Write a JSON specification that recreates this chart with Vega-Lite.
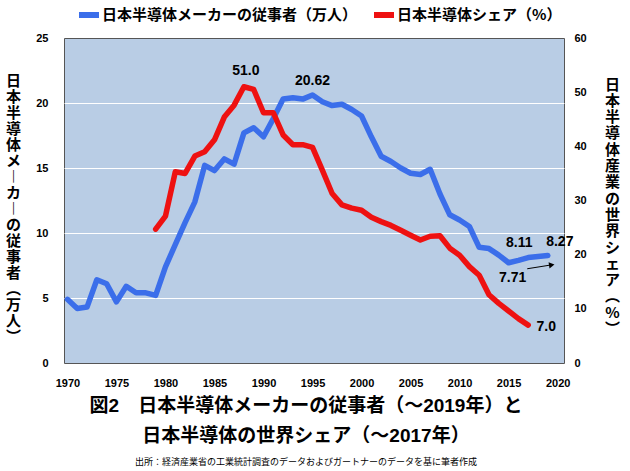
{
  "$schema": "https://vega.github.io/schema/vega-lite/v6.json",
  "width": 500,
  "height": 325,
  "autosize": {"type": "none"},
  "padding": {"left": 64, "top": 38, "right": 66, "bottom": 108},
  "background": "white",
  "config": {
    "font": "'Liberation Sans', 'Noto Sans CJK JP', sans-serif",
    "view": {"fill": "#b9cde5", "stroke": "#555555", "strokeWidth": 1},
    "axis": {
      "labelFont": "'Liberation Sans', sans-serif",
      "labelFontWeight": "bold",
      "labelFontSize": 11,
      "labelColor": "#000000",
      "ticks": false,
      "domain": false,
      "titleFont": "'Noto Sans CJK JP', sans-serif",
      "titleFontWeight": "bold",
      "titleFontSize": 15,
      "titleColor": "#000000"
    }
  },
  "title": {
    "text": ["図2　日本半導体メーカーの従事者（～2019年）と", "日本半導体の世界シェア（～2017年）"],
    "orient": "bottom",
    "anchor": "middle",
    "dx": -8,
    "font": "'Liberation Sans', 'Noto Sans CJK JP', sans-serif",
    "fontSize": 19,
    "fontWeight": "bold",
    "lineHeight": 30,
    "offset": 9,
    "color": "#000000",
    "subtitle": "出所：経済産業省の工業統計調査のデータおよびガートナーのデータを基に筆者作成",
    "subtitleFont": "'Noto Sans CJK JP', sans-serif",
    "subtitleFontSize": 9,
    "subtitleColor": "#000000",
    "subtitlePadding": 12
  },
  "datasets": {
    "workers": [
      {"year": 1970, "value": 4.9}, {"year": 1971, "value": 4.2}, {"year": 1972, "value": 4.3},
      {"year": 1973, "value": 6.4}, {"year": 1974, "value": 6.1}, {"year": 1975, "value": 4.7},
      {"year": 1976, "value": 5.9}, {"year": 1977, "value": 5.4}, {"year": 1978, "value": 5.4},
      {"year": 1979, "value": 5.2}, {"year": 1980, "value": 7.4}, {"year": 1981, "value": 9.1},
      {"year": 1982, "value": 10.8}, {"year": 1983, "value": 12.4}, {"year": 1984, "value": 15.2},
      {"year": 1985, "value": 14.8}, {"year": 1986, "value": 15.7}, {"year": 1987, "value": 15.3},
      {"year": 1988, "value": 17.7}, {"year": 1989, "value": 18.1}, {"year": 1990, "value": 17.4},
      {"year": 1991, "value": 18.8}, {"year": 1992, "value": 20.3}, {"year": 1993, "value": 20.4},
      {"year": 1994, "value": 20.3}, {"year": 1995, "value": 20.62}, {"year": 1996, "value": 20.1},
      {"year": 1997, "value": 19.8}, {"year": 1998, "value": 19.9}, {"year": 1999, "value": 19.5},
      {"year": 2000, "value": 19.0}, {"year": 2001, "value": 17.4}, {"year": 2002, "value": 15.9},
      {"year": 2003, "value": 15.5}, {"year": 2004, "value": 15.0}, {"year": 2005, "value": 14.6},
      {"year": 2006, "value": 14.5}, {"year": 2007, "value": 14.9}, {"year": 2008, "value": 13.0},
      {"year": 2009, "value": 11.4}, {"year": 2010, "value": 11.0}, {"year": 2011, "value": 10.5},
      {"year": 2012, "value": 8.9}, {"year": 2013, "value": 8.8}, {"year": 2014, "value": 8.3},
      {"year": 2015, "value": 7.71}, {"year": 2016, "value": 7.9}, {"year": 2017, "value": 8.11},
      {"year": 2018, "value": 8.2}, {"year": 2019, "value": 8.27}
    ],
    "share": [
      {"year": 1979, "value": 24.7}, {"year": 1980, "value": 27.1}, {"year": 1981, "value": 35.3},
      {"year": 1982, "value": 35.0}, {"year": 1983, "value": 38.2}, {"year": 1984, "value": 39.0},
      {"year": 1985, "value": 41.2}, {"year": 1986, "value": 45.4}, {"year": 1987, "value": 47.6},
      {"year": 1988, "value": 51.0}, {"year": 1989, "value": 50.5}, {"year": 1990, "value": 46.2},
      {"year": 1991, "value": 46.2}, {"year": 1992, "value": 42.1}, {"year": 1993, "value": 40.3},
      {"year": 1994, "value": 40.3}, {"year": 1995, "value": 39.8}, {"year": 1996, "value": 35.6},
      {"year": 1997, "value": 31.3}, {"year": 1998, "value": 29.2}, {"year": 1999, "value": 28.6},
      {"year": 2000, "value": 28.2}, {"year": 2001, "value": 26.9}, {"year": 2002, "value": 26.1},
      {"year": 2003, "value": 25.4}, {"year": 2004, "value": 24.5}, {"year": 2005, "value": 23.6},
      {"year": 2006, "value": 22.7}, {"year": 2007, "value": 23.4}, {"year": 2008, "value": 23.5},
      {"year": 2009, "value": 21.2}, {"year": 2010, "value": 19.9}, {"year": 2011, "value": 17.8},
      {"year": 2012, "value": 16.2}, {"year": 2013, "value": 12.6}, {"year": 2014, "value": 11.0},
      {"year": 2015, "value": 9.6}, {"year": 2016, "value": 8.2}, {"year": 2017, "value": 7.0}
    ],
    "arrow": [
      {"year": 2016.9, "value": 7.25, "year_end": 2019.4, "value_end": 7.55}
    ]
  },
  "layer": [
    {
      "data": {"name": "workers"},
      "encoding": {
        "x": {
          "field": "year", "type": "quantitative",
          "scale": {"domain": [1969.65, 2020.65], "nice": false, "zero": false},
          "axis": {"values": [1970, 1975, 1980, 1985, 1990, 1995, 2000, 2005, 2010, 2015, 2020], "format": "d", "labelPadding": 14, "grid": false, "title": null}
        },
        "y": {
          "field": "value", "type": "quantitative",
          "scale": {"domain": [0, 25], "nice": false},
          "axis": {
            "orient": "left",
            "values": [0, 5, 10, 15, 20, 25],
            "labelPadding": 16,
            "grid": true,
            "gridColor": {"condition": {"test": "datum.value === 0 || datum.value === 25", "value": "transparent"}, "value": "#ffffff"},
            "gridWidth": 1,
            "title": ["日", "本", "半", "導", "体", "メ", "︱", "カ", "︱", "の", "従", "事", "者", "︵", "万", "人", "︶"],
            "titleAngle": 0,
            "titleAlign": "center",
            "titleBaseline": "top",
            "titleX": -51,
            "titleY": 35,
            "titleLineHeight": 16
          }
        }
      },
      "layer": [
        {
          "mark": {"type": "line", "strokeWidth": 5.5, "strokeJoin": "round", "strokeCap": "round"},
          "encoding": {
            "color": {
              "datum": "日本半導体メーカーの従事者（万人）",
              "type": "nominal",
              "scale": {"domain": ["日本半導体メーカーの従事者（万人）", "日本半導体シェア（%）"], "range": ["#3b6eea", "#ee1111"]},
              "legend": {
                "orient": "none", "legendX": 12, "legendY": -36, "direction": "horizontal",
                "symbolType": "stroke", "symbolStrokeWidth": 6, "symbolSize": 400,
                "labelFont": "'Noto Sans CJK JP', sans-serif",
                "labelFontSize": 15, "labelFontWeight": "bold", "labelColor": "#000000",
                "columnPadding": 4, "labelOffset": 0, "title": null, "labelLimit": 400
              }
            }
          }
        },
        {
          "transform": [{"filter": "datum.year === 1995"}],
          "mark": {"type": "text", "dy": -14, "dx": 0, "fontSize": 14, "fontWeight": "bold", "color": "#000000"},
          "encoding": {"text": {"field": "value", "type": "quantitative", "format": ".2f"}}
        },
        {
          "transform": [{"filter": "datum.year === 2017"}],
          "mark": {"type": "text", "dy": -15, "dx": -9, "fontSize": 14, "fontWeight": "bold", "color": "#000000"},
          "encoding": {"text": {"field": "value", "type": "quantitative", "format": ".2f"}}
        },
        {
          "transform": [{"filter": "datum.year === 2019"}],
          "mark": {"type": "text", "dy": -13, "dx": 12, "fontSize": 14, "fontWeight": "bold", "color": "#000000"},
          "encoding": {"text": {"field": "value", "type": "quantitative", "format": ".2f"}}
        },
        {
          "transform": [{"filter": "datum.year === 2015"}],
          "mark": {"type": "text", "dy": 15, "dx": 4, "fontSize": 14, "fontWeight": "bold", "color": "#000000"},
          "encoding": {"text": {"field": "value", "type": "quantitative", "format": ".2f"}}
        },
        {
          "data": {"name": "arrow"},
          "mark": {"type": "rule", "color": "#000000", "strokeWidth": 1},
          "encoding": {
            "x2": {"field": "year_end"},
            "y2": {"field": "value_end"}
          }
        },
        {
          "data": {"name": "arrow"},
          "mark": {"type": "point", "shape": "triangle-right", "angle": -9, "size": 40, "filled": true, "color": "#000000", "opacity": 1},
          "encoding": {
            "x": {"field": "year_end", "type": "quantitative"},
            "y": {"field": "value_end", "type": "quantitative"}
          }
        }
      ]
    },
    {
      "data": {"name": "share"},
      "encoding": {
        "x": {"field": "year", "type": "quantitative"},
        "y": {
          "field": "value", "type": "quantitative",
          "scale": {"domain": [0, 60], "nice": false},
          "axis": {
            "orient": "right",
            "values": [0, 10, 20, 30, 40, 50, 60],
            "labelPadding": 10,
            "grid": false,
            "title": ["日", "本", "半", "導", "体", "産", "業", "の", "世", "界", "シ", "ェ", "ア", "︵", "%", "︶"],
            "titleAngle": 0,
            "titleAlign": "center",
            "titleBaseline": "top",
            "titleX": 48,
            "titleY": 39,
            "titleLineHeight": 16.3
          }
        }
      },
      "layer": [
        {
          "mark": {"type": "line", "strokeWidth": 5.5, "strokeJoin": "round", "strokeCap": "round"},
          "encoding": {
            "color": {"datum": "日本半導体シェア（%）", "type": "nominal"}
          }
        },
        {
          "transform": [{"filter": "datum.year === 1988"}],
          "mark": {"type": "text", "dy": -16, "dx": 2, "fontSize": 14, "fontWeight": "bold", "color": "#000000"},
          "encoding": {"text": {"field": "value", "type": "quantitative", "format": ".1f"}}
        },
        {
          "transform": [{"filter": "datum.year === 2017"}],
          "mark": {"type": "text", "dy": 2, "dx": 18, "fontSize": 14, "fontWeight": "bold", "color": "#000000"},
          "encoding": {"text": {"field": "value", "type": "quantitative", "format": ".1f"}}
        }
      ]
    }
  ],
  "resolve": {"scale": {"y": "independent"}}
}
